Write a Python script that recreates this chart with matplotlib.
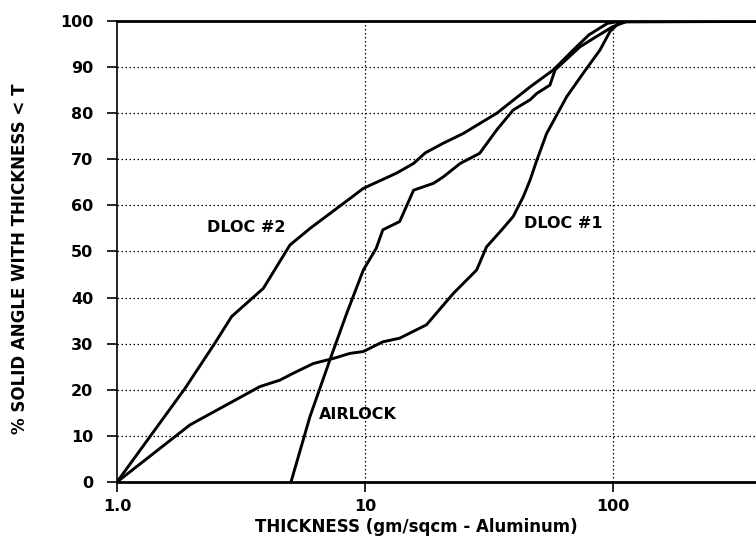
import matplotlib
matplotlib.use("Agg")
import matplotlib.pyplot as plt
from matplotlib.ticker import FixedLocator, NullLocator

# ---- data ----
dloc2_x = [1.0, 1.88, 2.48, 2.90, 3.89, 4.98, 6.0, 8.7, 9.85, 13.4, 15.7, 17.5, 20.7,
           24.9, 34.0, 46.3, 57.5, 70, 80, 95, 110, 1000]
dloc2_y = [0, 20.3, 30.1, 35.9, 42.0, 51.4, 55.0, 61.5, 63.7, 67.0, 69.1, 71.4, 73.5,
           75.6, 80.0, 85.7, 89.4, 94.0, 97.0, 99.5, 100, 100]

airlock_x = [5.03, 6.0, 7.22, 8.44, 9.85, 11.1, 11.8, 13.8, 15.7, 18.9, 20.7, 24.2, 29.0,
             34.0, 39.6, 46.3, 49.3, 55.7, 58.4, 73.6, 85, 100, 115, 1000]
airlock_y = [0, 14.2, 26.5, 36.6, 46.0, 50.7, 54.7, 56.5, 63.3, 64.8, 66.2, 69.1, 71.3,
             76.4, 80.7, 82.9, 84.3, 86.1, 89.4, 94.4, 96.5, 98.8, 100, 100]

dloc1_x = [1.0, 1.97, 3.77, 4.54, 5.14, 6.19, 7.45, 8.7, 9.84, 11.8, 13.8, 17.7, 22.7,
           28.2, 30.9, 35.6, 39.6, 43.5, 46.3, 49.3, 54.0, 65.1, 75.9, 88.6, 97.2, 106.7, 1000]
dloc1_y = [0, 12.4, 20.7, 22.1, 23.6, 25.7, 26.8, 27.9, 28.3, 30.4, 31.2, 34.1, 40.9,
           46.0, 51.0, 54.7, 57.6, 61.9, 65.5, 69.8, 75.6, 83.6, 88.7, 93.7, 97.7, 99.8, 100]

x_ticks = [1, 10, 100]
x_tick_labels = ["1.0", "10", "100"]
y_ticks = [0, 10, 20, 30, 40, 50, 60, 70, 80, 90, 100]

labels = [("DLOC #2", 3.33, 55.2), ("DLOC #1", 62.9, 56.0), ("AIRLOCK", 9.32, 14.75)]

# ---- figure ----
W, H = 756, 544
fig = plt.figure(figsize=(W / 100, H / 100), dpi=100)
plt.rcParams['font.family'] = ['DejaVu Sans']
FS = 11.5

left, right, top, bottom = 117, 756, 21, 482
ax = fig.add_axes([left / W, 1 - bottom / H, (right - left) / W, (bottom - top) / H])

decade = 248.0
ax.set_xscale('log')
ax.set_xlim(1, 10 ** ((right - left) / decade))
ax.set_ylim(0, 100)

for xs, ys in [(dloc2_x, dloc2_y), (airlock_x, airlock_y), (dloc1_x, dloc1_y)]:
    ax.plot(xs, ys, color='black', lw=2.1, solid_joinstyle='round', clip_on=True, zorder=3)

ax.xaxis.set_major_locator(FixedLocator(x_ticks))
ax.xaxis.set_minor_locator(NullLocator())
ax.set_xticklabels(x_tick_labels)
ax.yaxis.set_major_locator(FixedLocator(y_ticks))
ax.set_yticklabels([str(v) for v in y_ticks])

ax.tick_params(axis='both', direction='out', length=7, width=1.2, color='black',
               labelsize=FS)
ax.tick_params(axis='y', pad=10)
ax.tick_params(axis='x', pad=5)
for lab in ax.get_xticklabels() + ax.get_yticklabels():
    lab.set_fontweight('bold')

# dotted gridlines (skip at axis boundaries)
for yv in y_ticks[1:-1]:
    ax.axhline(yv, color='black', lw=0.9, linestyle=(0, (1.2, 2.0)), zorder=1)
for xv in x_ticks[1:]:
    ax.axvline(xv, color='black', lw=0.9, linestyle=(0, (1.2, 2.0)), zorder=1)

ax.spines['right'].set_visible(False)
ax.spines['top'].set_linewidth(2.0)
ax.spines['bottom'].set_linewidth(2.0)
ax.spines['left'].set_linewidth(1.2)

for text, xv, yv in labels:
    ax.text(xv, yv, text, ha='center', va='center', fontsize=FS, fontweight='bold', zorder=4)

fig.text(416 / W, 1 - 527 / H, "THICKNESS (gm/sqcm - Aluminum)", ha='center', va='center',
         fontsize=12, fontweight='bold')
fig.text(20 / W, 1 - 259 / H, "% SOLID ANGLE WITH THICKNESS < T", ha='center', va='center',
         rotation=90, fontsize=12, fontweight='bold')

fig.savefig("out.png", dpi=100)
